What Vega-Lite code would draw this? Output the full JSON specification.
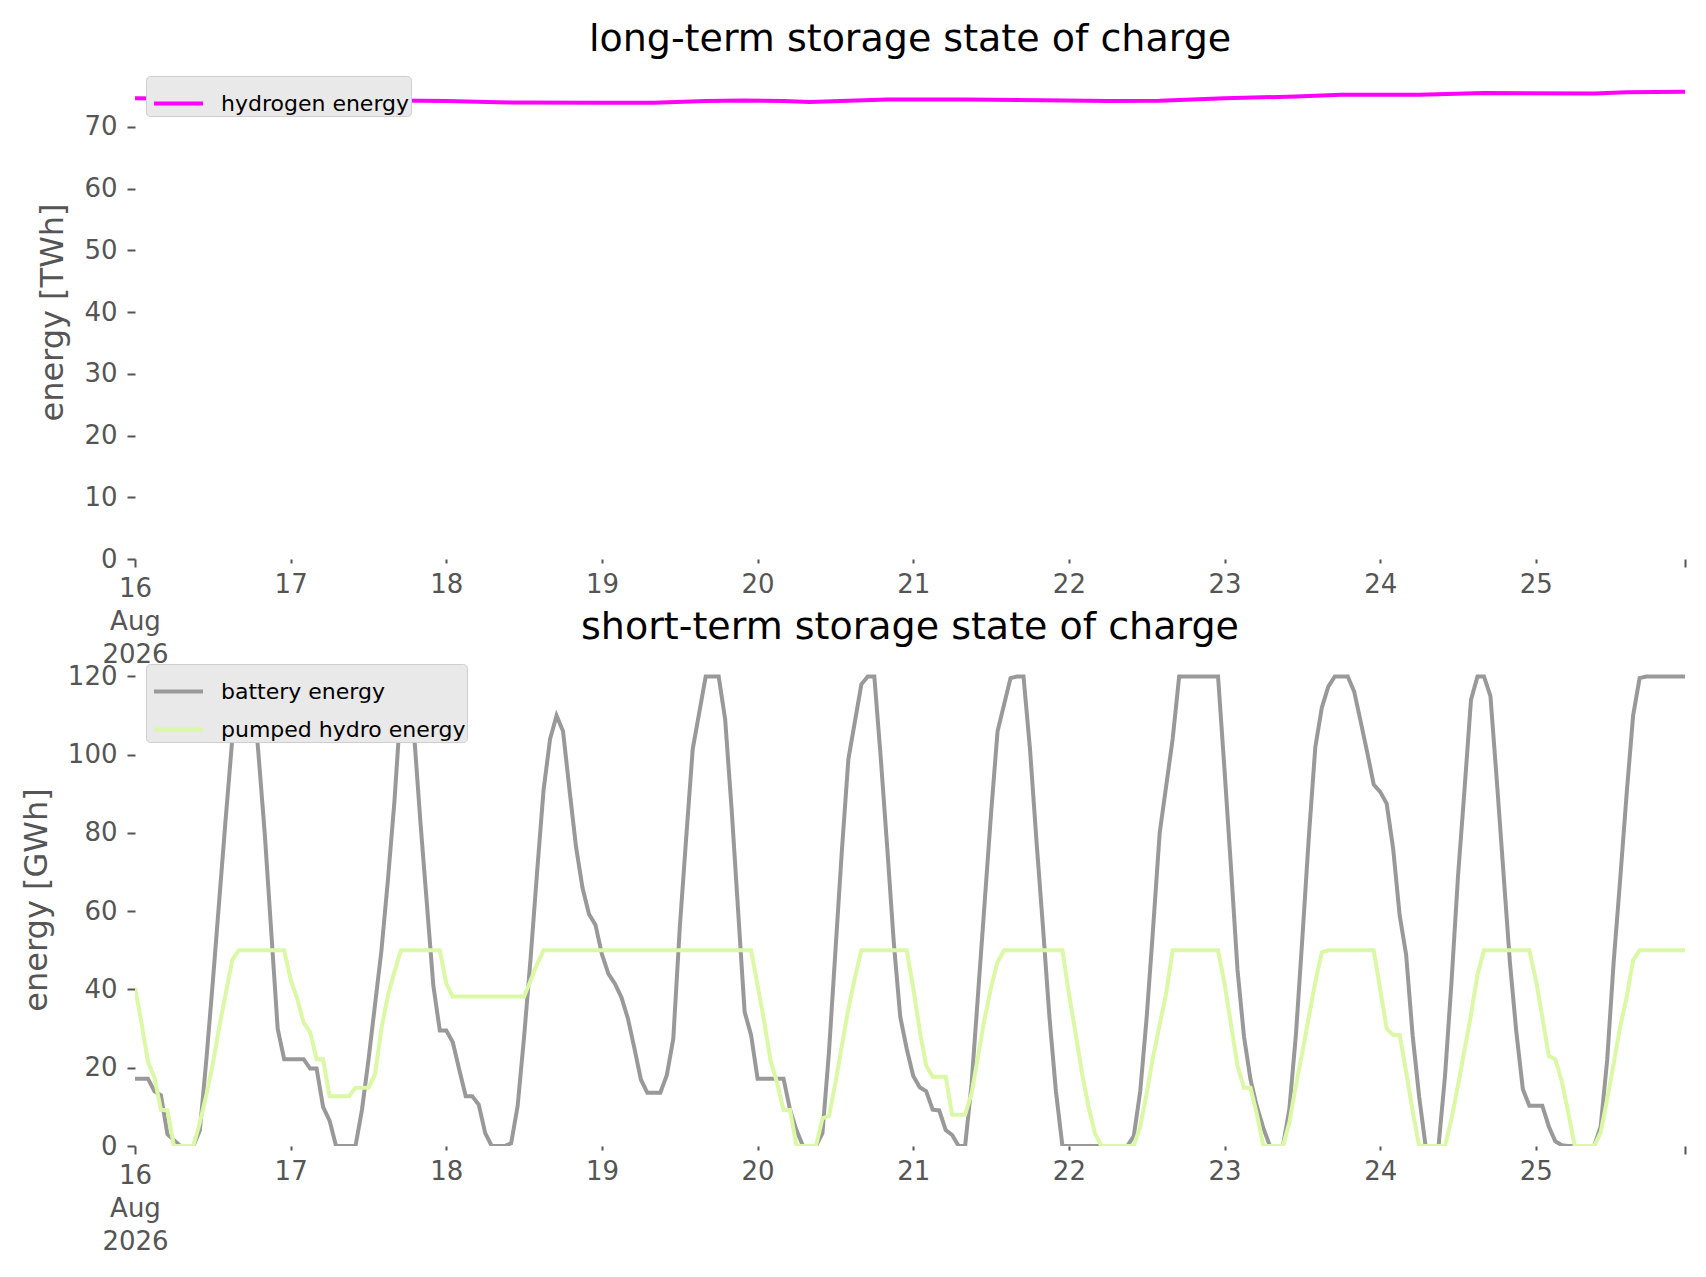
{
  "$schema": "https://vega.github.io/schema/vega-lite/v6.json",
  "background": "white",
  "padding": {"left": 20, "top": 21, "right": 10, "bottom": 10},
  "datasets": {
    "longterm": [
      {"s": "hydrogen energy", "t": "2026-08-16T00:00", "v": 74.6},
      {"s": "hydrogen energy", "t": "2026-08-16T12:00", "v": 74.5},
      {"s": "hydrogen energy", "t": "2026-08-17T00:00", "v": 74.4},
      {"s": "hydrogen energy", "t": "2026-08-17T12:00", "v": 74.3},
      {"s": "hydrogen energy", "t": "2026-08-18T00:00", "v": 74.15},
      {"s": "hydrogen energy", "t": "2026-08-18T08:00", "v": 73.95},
      {"s": "hydrogen energy", "t": "2026-08-19T00:00", "v": 73.9},
      {"s": "hydrogen energy", "t": "2026-08-19T08:00", "v": 73.9},
      {"s": "hydrogen energy", "t": "2026-08-19T16:00", "v": 74.15},
      {"s": "hydrogen energy", "t": "2026-08-19T22:00", "v": 74.25},
      {"s": "hydrogen energy", "t": "2026-08-20T04:00", "v": 74.15},
      {"s": "hydrogen energy", "t": "2026-08-20T08:00", "v": 74.0},
      {"s": "hydrogen energy", "t": "2026-08-20T14:00", "v": 74.2},
      {"s": "hydrogen energy", "t": "2026-08-20T20:00", "v": 74.4},
      {"s": "hydrogen energy", "t": "2026-08-21T08:00", "v": 74.4},
      {"s": "hydrogen energy", "t": "2026-08-21T20:00", "v": 74.3},
      {"s": "hydrogen energy", "t": "2026-08-22T06:00", "v": 74.15},
      {"s": "hydrogen energy", "t": "2026-08-22T14:00", "v": 74.2},
      {"s": "hydrogen energy", "t": "2026-08-23T00:00", "v": 74.6},
      {"s": "hydrogen energy", "t": "2026-08-23T11:00", "v": 74.9},
      {"s": "hydrogen energy", "t": "2026-08-23T18:00", "v": 75.2},
      {"s": "hydrogen energy", "t": "2026-08-24T06:00", "v": 75.2},
      {"s": "hydrogen energy", "t": "2026-08-24T16:00", "v": 75.45},
      {"s": "hydrogen energy", "t": "2026-08-25T09:00", "v": 75.4},
      {"s": "hydrogen energy", "t": "2026-08-25T14:00", "v": 75.6},
      {"s": "hydrogen energy", "t": "2026-08-25T23:00", "v": 75.65}
    ],
    "shortterm": [
      {"s": "battery energy", "t": "2026-08-16T00:00", "v": 17.2},
      {"s": "battery energy", "t": "2026-08-16T02:00", "v": 17.2},
      {"s": "battery energy", "t": "2026-08-16T03:00", "v": 14.0},
      {"s": "battery energy", "t": "2026-08-16T04:00", "v": 13.0},
      {"s": "battery energy", "t": "2026-08-16T05:00", "v": 3.0},
      {"s": "battery energy", "t": "2026-08-16T06:00", "v": 1.5},
      {"s": "battery energy", "t": "2026-08-16T07:00", "v": 0},
      {"s": "battery energy", "t": "2026-08-16T09:00", "v": 0},
      {"s": "battery energy", "t": "2026-08-16T10:00", "v": 4},
      {"s": "battery energy", "t": "2026-08-16T11:00", "v": 22},
      {"s": "battery energy", "t": "2026-08-16T12:00", "v": 42},
      {"s": "battery energy", "t": "2026-08-16T13:00", "v": 63},
      {"s": "battery energy", "t": "2026-08-16T14:00", "v": 84},
      {"s": "battery energy", "t": "2026-08-16T15:00", "v": 104},
      {"s": "battery energy", "t": "2026-08-16T16:00", "v": 120},
      {"s": "battery energy", "t": "2026-08-16T18:00", "v": 120},
      {"s": "battery energy", "t": "2026-08-16T19:00", "v": 101},
      {"s": "battery energy", "t": "2026-08-16T20:00", "v": 80},
      {"s": "battery energy", "t": "2026-08-16T21:00", "v": 55},
      {"s": "battery energy", "t": "2026-08-16T22:00", "v": 30},
      {"s": "battery energy", "t": "2026-08-16T23:00", "v": 22.2},
      {"s": "battery energy", "t": "2026-08-17T02:00", "v": 22.2},
      {"s": "battery energy", "t": "2026-08-17T03:00", "v": 19.8},
      {"s": "battery energy", "t": "2026-08-17T04:00", "v": 19.8},
      {"s": "battery energy", "t": "2026-08-17T05:00", "v": 10},
      {"s": "battery energy", "t": "2026-08-17T06:00", "v": 6.5},
      {"s": "battery energy", "t": "2026-08-17T07:00", "v": 0},
      {"s": "battery energy", "t": "2026-08-17T10:00", "v": 0},
      {"s": "battery energy", "t": "2026-08-17T11:00", "v": 9.3},
      {"s": "battery energy", "t": "2026-08-17T12:00", "v": 22},
      {"s": "battery energy", "t": "2026-08-17T13:00", "v": 36},
      {"s": "battery energy", "t": "2026-08-17T14:00", "v": 50},
      {"s": "battery energy", "t": "2026-08-17T15:00", "v": 68},
      {"s": "battery energy", "t": "2026-08-17T16:00", "v": 88},
      {"s": "battery energy", "t": "2026-08-17T17:00", "v": 113},
      {"s": "battery energy", "t": "2026-08-17T18:00", "v": 120},
      {"s": "battery energy", "t": "2026-08-17T19:00", "v": 106},
      {"s": "battery energy", "t": "2026-08-17T20:00", "v": 83},
      {"s": "battery energy", "t": "2026-08-17T21:00", "v": 62},
      {"s": "battery energy", "t": "2026-08-17T22:00", "v": 41},
      {"s": "battery energy", "t": "2026-08-17T23:00", "v": 29.5},
      {"s": "battery energy", "t": "2026-08-18T00:00", "v": 29.5},
      {"s": "battery energy", "t": "2026-08-18T01:00", "v": 26.5},
      {"s": "battery energy", "t": "2026-08-18T02:00", "v": 19.5},
      {"s": "battery energy", "t": "2026-08-18T03:00", "v": 12.7},
      {"s": "battery energy", "t": "2026-08-18T04:00", "v": 12.7},
      {"s": "battery energy", "t": "2026-08-18T05:00", "v": 10.6},
      {"s": "battery energy", "t": "2026-08-18T06:00", "v": 3.3},
      {"s": "battery energy", "t": "2026-08-18T07:00", "v": 0},
      {"s": "battery energy", "t": "2026-08-18T09:00", "v": 0},
      {"s": "battery energy", "t": "2026-08-18T10:00", "v": 0.7},
      {"s": "battery energy", "t": "2026-08-18T11:00", "v": 10.2},
      {"s": "battery energy", "t": "2026-08-18T12:00", "v": 28},
      {"s": "battery energy", "t": "2026-08-18T13:00", "v": 48},
      {"s": "battery energy", "t": "2026-08-18T14:00", "v": 70},
      {"s": "battery energy", "t": "2026-08-18T15:00", "v": 91},
      {"s": "battery energy", "t": "2026-08-18T16:00", "v": 104},
      {"s": "battery energy", "t": "2026-08-18T17:00", "v": 110},
      {"s": "battery energy", "t": "2026-08-18T18:00", "v": 106},
      {"s": "battery energy", "t": "2026-08-18T19:00", "v": 91},
      {"s": "battery energy", "t": "2026-08-18T20:00", "v": 76.5},
      {"s": "battery energy", "t": "2026-08-18T21:00", "v": 66},
      {"s": "battery energy", "t": "2026-08-18T22:00", "v": 59.3},
      {"s": "battery energy", "t": "2026-08-18T23:00", "v": 56.5},
      {"s": "battery energy", "t": "2026-08-19T00:00", "v": 49},
      {"s": "battery energy", "t": "2026-08-19T01:00", "v": 44},
      {"s": "battery energy", "t": "2026-08-19T02:00", "v": 41.5},
      {"s": "battery energy", "t": "2026-08-19T03:00", "v": 38},
      {"s": "battery energy", "t": "2026-08-19T04:00", "v": 32.6},
      {"s": "battery energy", "t": "2026-08-19T05:00", "v": 25},
      {"s": "battery energy", "t": "2026-08-19T06:00", "v": 17},
      {"s": "battery energy", "t": "2026-08-19T07:00", "v": 13.6},
      {"s": "battery energy", "t": "2026-08-19T09:00", "v": 13.6},
      {"s": "battery energy", "t": "2026-08-19T10:00", "v": 18.1},
      {"s": "battery energy", "t": "2026-08-19T11:00", "v": 27.4},
      {"s": "battery energy", "t": "2026-08-19T12:00", "v": 55.8},
      {"s": "battery energy", "t": "2026-08-19T13:00", "v": 79},
      {"s": "battery energy", "t": "2026-08-19T14:00", "v": 101.5},
      {"s": "battery energy", "t": "2026-08-19T16:00", "v": 120},
      {"s": "battery energy", "t": "2026-08-19T18:00", "v": 120},
      {"s": "battery energy", "t": "2026-08-19T19:00", "v": 109},
      {"s": "battery energy", "t": "2026-08-19T20:00", "v": 86},
      {"s": "battery energy", "t": "2026-08-19T21:00", "v": 60},
      {"s": "battery energy", "t": "2026-08-19T22:00", "v": 34.3},
      {"s": "battery energy", "t": "2026-08-19T23:00", "v": 28.3},
      {"s": "battery energy", "t": "2026-08-20T00:00", "v": 17.2},
      {"s": "battery energy", "t": "2026-08-20T04:00", "v": 17.2},
      {"s": "battery energy", "t": "2026-08-20T05:00", "v": 9.3},
      {"s": "battery energy", "t": "2026-08-20T06:00", "v": 4},
      {"s": "battery energy", "t": "2026-08-20T07:00", "v": 0},
      {"s": "battery energy", "t": "2026-08-20T09:00", "v": 0},
      {"s": "battery energy", "t": "2026-08-20T10:00", "v": 3.3},
      {"s": "battery energy", "t": "2026-08-20T11:00", "v": 23.9},
      {"s": "battery energy", "t": "2026-08-20T12:00", "v": 49.8},
      {"s": "battery energy", "t": "2026-08-20T13:00", "v": 75.6},
      {"s": "battery energy", "t": "2026-08-20T14:00", "v": 98.9},
      {"s": "battery energy", "t": "2026-08-20T16:00", "v": 118},
      {"s": "battery energy", "t": "2026-08-20T17:00", "v": 120},
      {"s": "battery energy", "t": "2026-08-20T18:00", "v": 120},
      {"s": "battery energy", "t": "2026-08-20T19:00", "v": 99},
      {"s": "battery energy", "t": "2026-08-20T20:00", "v": 76},
      {"s": "battery energy", "t": "2026-08-20T21:00", "v": 52},
      {"s": "battery energy", "t": "2026-08-20T22:00", "v": 33},
      {"s": "battery energy", "t": "2026-08-20T23:00", "v": 24.8},
      {"s": "battery energy", "t": "2026-08-21T00:00", "v": 17.9},
      {"s": "battery energy", "t": "2026-08-21T01:00", "v": 15},
      {"s": "battery energy", "t": "2026-08-21T02:00", "v": 14},
      {"s": "battery energy", "t": "2026-08-21T03:00", "v": 9.3},
      {"s": "battery energy", "t": "2026-08-21T04:00", "v": 9.1},
      {"s": "battery energy", "t": "2026-08-21T05:00", "v": 4.1},
      {"s": "battery energy", "t": "2026-08-21T06:00", "v": 2.8},
      {"s": "battery energy", "t": "2026-08-21T07:00", "v": 0},
      {"s": "battery energy", "t": "2026-08-21T08:00", "v": 0},
      {"s": "battery energy", "t": "2026-08-21T09:00", "v": 16},
      {"s": "battery energy", "t": "2026-08-21T10:00", "v": 39},
      {"s": "battery energy", "t": "2026-08-21T11:00", "v": 62},
      {"s": "battery energy", "t": "2026-08-21T12:00", "v": 85},
      {"s": "battery energy", "t": "2026-08-21T13:00", "v": 106},
      {"s": "battery energy", "t": "2026-08-21T15:00", "v": 119.6},
      {"s": "battery energy", "t": "2026-08-21T16:00", "v": 120},
      {"s": "battery energy", "t": "2026-08-21T17:00", "v": 120},
      {"s": "battery energy", "t": "2026-08-21T18:00", "v": 101.5},
      {"s": "battery energy", "t": "2026-08-21T19:00", "v": 78},
      {"s": "battery energy", "t": "2026-08-21T20:00", "v": 56},
      {"s": "battery energy", "t": "2026-08-21T21:00", "v": 33},
      {"s": "battery energy", "t": "2026-08-21T22:00", "v": 14},
      {"s": "battery energy", "t": "2026-08-21T23:00", "v": 0},
      {"s": "battery energy", "t": "2026-08-22T09:00", "v": 0},
      {"s": "battery energy", "t": "2026-08-22T10:00", "v": 2.5},
      {"s": "battery energy", "t": "2026-08-22T11:00", "v": 14},
      {"s": "battery energy", "t": "2026-08-22T12:00", "v": 33},
      {"s": "battery energy", "t": "2026-08-22T13:00", "v": 56},
      {"s": "battery energy", "t": "2026-08-22T14:00", "v": 80},
      {"s": "battery energy", "t": "2026-08-22T15:00", "v": 92},
      {"s": "battery energy", "t": "2026-08-22T16:00", "v": 104},
      {"s": "battery energy", "t": "2026-08-22T17:00", "v": 120},
      {"s": "battery energy", "t": "2026-08-22T23:00", "v": 120},
      {"s": "battery energy", "t": "2026-08-23T00:00", "v": 96},
      {"s": "battery energy", "t": "2026-08-23T01:00", "v": 71},
      {"s": "battery energy", "t": "2026-08-23T02:00", "v": 45},
      {"s": "battery energy", "t": "2026-08-23T03:00", "v": 28},
      {"s": "battery energy", "t": "2026-08-23T04:00", "v": 17},
      {"s": "battery energy", "t": "2026-08-23T05:00", "v": 10},
      {"s": "battery energy", "t": "2026-08-23T06:00", "v": 4.5},
      {"s": "battery energy", "t": "2026-08-23T07:00", "v": 0},
      {"s": "battery energy", "t": "2026-08-23T09:00", "v": 0},
      {"s": "battery energy", "t": "2026-08-23T10:00", "v": 9.5},
      {"s": "battery energy", "t": "2026-08-23T11:00", "v": 28.3},
      {"s": "battery energy", "t": "2026-08-23T12:00", "v": 53.2},
      {"s": "battery energy", "t": "2026-08-23T13:00", "v": 79.1},
      {"s": "battery energy", "t": "2026-08-23T14:00", "v": 102},
      {"s": "battery energy", "t": "2026-08-23T15:00", "v": 112},
      {"s": "battery energy", "t": "2026-08-23T16:00", "v": 117.4},
      {"s": "battery energy", "t": "2026-08-23T17:00", "v": 120},
      {"s": "battery energy", "t": "2026-08-23T19:00", "v": 120},
      {"s": "battery energy", "t": "2026-08-23T20:00", "v": 116.1},
      {"s": "battery energy", "t": "2026-08-23T21:00", "v": 108.4},
      {"s": "battery energy", "t": "2026-08-23T22:00", "v": 100.6},
      {"s": "battery energy", "t": "2026-08-23T23:00", "v": 92.4},
      {"s": "battery energy", "t": "2026-08-24T00:00", "v": 90.5},
      {"s": "battery energy", "t": "2026-08-24T01:00", "v": 87.5},
      {"s": "battery energy", "t": "2026-08-24T02:00", "v": 76},
      {"s": "battery energy", "t": "2026-08-24T03:00", "v": 59},
      {"s": "battery energy", "t": "2026-08-24T04:00", "v": 48.9},
      {"s": "battery energy", "t": "2026-08-24T05:00", "v": 28.3},
      {"s": "battery energy", "t": "2026-08-24T06:00", "v": 12.7},
      {"s": "battery energy", "t": "2026-08-24T07:00", "v": 0},
      {"s": "battery energy", "t": "2026-08-24T09:00", "v": 0},
      {"s": "battery energy", "t": "2026-08-24T10:00", "v": 18},
      {"s": "battery energy", "t": "2026-08-24T11:00", "v": 42},
      {"s": "battery energy", "t": "2026-08-24T12:00", "v": 69},
      {"s": "battery energy", "t": "2026-08-24T13:00", "v": 91},
      {"s": "battery energy", "t": "2026-08-24T14:00", "v": 114},
      {"s": "battery energy", "t": "2026-08-24T15:00", "v": 120},
      {"s": "battery energy", "t": "2026-08-24T16:00", "v": 120},
      {"s": "battery energy", "t": "2026-08-24T17:00", "v": 115},
      {"s": "battery energy", "t": "2026-08-24T18:00", "v": 93},
      {"s": "battery energy", "t": "2026-08-24T19:00", "v": 70},
      {"s": "battery energy", "t": "2026-08-24T20:00", "v": 47},
      {"s": "battery energy", "t": "2026-08-24T21:00", "v": 29},
      {"s": "battery energy", "t": "2026-08-24T22:00", "v": 14.5},
      {"s": "battery energy", "t": "2026-08-24T23:00", "v": 10.3},
      {"s": "battery energy", "t": "2026-08-25T01:00", "v": 10.3},
      {"s": "battery energy", "t": "2026-08-25T02:00", "v": 5},
      {"s": "battery energy", "t": "2026-08-25T03:00", "v": 1.2},
      {"s": "battery energy", "t": "2026-08-25T04:00", "v": 0.2},
      {"s": "battery energy", "t": "2026-08-25T05:00", "v": 0},
      {"s": "battery energy", "t": "2026-08-25T09:00", "v": 0},
      {"s": "battery energy", "t": "2026-08-25T10:00", "v": 5},
      {"s": "battery energy", "t": "2026-08-25T11:00", "v": 22},
      {"s": "battery energy", "t": "2026-08-25T12:00", "v": 47},
      {"s": "battery energy", "t": "2026-08-25T13:00", "v": 68},
      {"s": "battery energy", "t": "2026-08-25T14:00", "v": 90},
      {"s": "battery energy", "t": "2026-08-25T15:00", "v": 110},
      {"s": "battery energy", "t": "2026-08-25T16:00", "v": 119.6},
      {"s": "battery energy", "t": "2026-08-25T17:00", "v": 120},
      {"s": "battery energy", "t": "2026-08-25T23:00", "v": 120},
      {"s": "pumped hydro energy", "t": "2026-08-16T00:00", "v": 40.5},
      {"s": "pumped hydro energy", "t": "2026-08-16T01:00", "v": 31.5},
      {"s": "pumped hydro energy", "t": "2026-08-16T02:00", "v": 21.5},
      {"s": "pumped hydro energy", "t": "2026-08-16T03:00", "v": 17.5},
      {"s": "pumped hydro energy", "t": "2026-08-16T04:00", "v": 9.3},
      {"s": "pumped hydro energy", "t": "2026-08-16T05:00", "v": 9.1},
      {"s": "pumped hydro energy", "t": "2026-08-16T06:00", "v": 0},
      {"s": "pumped hydro energy", "t": "2026-08-16T09:00", "v": 0},
      {"s": "pumped hydro energy", "t": "2026-08-16T10:00", "v": 6},
      {"s": "pumped hydro energy", "t": "2026-08-16T11:00", "v": 13},
      {"s": "pumped hydro energy", "t": "2026-08-16T12:00", "v": 21},
      {"s": "pumped hydro energy", "t": "2026-08-16T13:00", "v": 30.5},
      {"s": "pumped hydro energy", "t": "2026-08-16T14:00", "v": 39},
      {"s": "pumped hydro energy", "t": "2026-08-16T15:00", "v": 47.6},
      {"s": "pumped hydro energy", "t": "2026-08-16T16:00", "v": 50},
      {"s": "pumped hydro energy", "t": "2026-08-16T23:00", "v": 50},
      {"s": "pumped hydro energy", "t": "2026-08-17T00:00", "v": 42.5},
      {"s": "pumped hydro energy", "t": "2026-08-17T01:00", "v": 37.7},
      {"s": "pumped hydro energy", "t": "2026-08-17T02:00", "v": 31.5},
      {"s": "pumped hydro energy", "t": "2026-08-17T03:00", "v": 29.1},
      {"s": "pumped hydro energy", "t": "2026-08-17T04:00", "v": 22.2},
      {"s": "pumped hydro energy", "t": "2026-08-17T05:00", "v": 22.2},
      {"s": "pumped hydro energy", "t": "2026-08-17T06:00", "v": 12.7},
      {"s": "pumped hydro energy", "t": "2026-08-17T09:00", "v": 12.7},
      {"s": "pumped hydro energy", "t": "2026-08-17T10:00", "v": 14.9},
      {"s": "pumped hydro energy", "t": "2026-08-17T12:00", "v": 14.9},
      {"s": "pumped hydro energy", "t": "2026-08-17T13:00", "v": 18.3},
      {"s": "pumped hydro energy", "t": "2026-08-17T14:00", "v": 30},
      {"s": "pumped hydro energy", "t": "2026-08-17T15:00", "v": 38.5},
      {"s": "pumped hydro energy", "t": "2026-08-17T16:00", "v": 44.5},
      {"s": "pumped hydro energy", "t": "2026-08-17T17:00", "v": 50},
      {"s": "pumped hydro energy", "t": "2026-08-17T23:00", "v": 50},
      {"s": "pumped hydro energy", "t": "2026-08-18T00:00", "v": 41.5},
      {"s": "pumped hydro energy", "t": "2026-08-18T01:00", "v": 38.2},
      {"s": "pumped hydro energy", "t": "2026-08-18T12:00", "v": 38.2},
      {"s": "pumped hydro energy", "t": "2026-08-18T13:00", "v": 42.3},
      {"s": "pumped hydro energy", "t": "2026-08-18T14:00", "v": 46.5},
      {"s": "pumped hydro energy", "t": "2026-08-18T15:00", "v": 50},
      {"s": "pumped hydro energy", "t": "2026-08-19T23:00", "v": 50},
      {"s": "pumped hydro energy", "t": "2026-08-20T00:00", "v": 41},
      {"s": "pumped hydro energy", "t": "2026-08-20T01:00", "v": 32},
      {"s": "pumped hydro energy", "t": "2026-08-20T02:00", "v": 21.8},
      {"s": "pumped hydro energy", "t": "2026-08-20T03:00", "v": 16.2},
      {"s": "pumped hydro energy", "t": "2026-08-20T04:00", "v": 9.2},
      {"s": "pumped hydro energy", "t": "2026-08-20T05:00", "v": 9.2},
      {"s": "pumped hydro energy", "t": "2026-08-20T06:00", "v": 0},
      {"s": "pumped hydro energy", "t": "2026-08-20T09:00", "v": 0},
      {"s": "pumped hydro energy", "t": "2026-08-20T10:00", "v": 7.1},
      {"s": "pumped hydro energy", "t": "2026-08-20T11:00", "v": 7.6},
      {"s": "pumped hydro energy", "t": "2026-08-20T12:00", "v": 16.2},
      {"s": "pumped hydro energy", "t": "2026-08-20T13:00", "v": 25.7},
      {"s": "pumped hydro energy", "t": "2026-08-20T14:00", "v": 35.1},
      {"s": "pumped hydro energy", "t": "2026-08-20T15:00", "v": 43},
      {"s": "pumped hydro energy", "t": "2026-08-20T16:00", "v": 50},
      {"s": "pumped hydro energy", "t": "2026-08-20T23:00", "v": 50},
      {"s": "pumped hydro energy", "t": "2026-08-21T00:00", "v": 40.3},
      {"s": "pumped hydro energy", "t": "2026-08-21T01:00", "v": 29.5},
      {"s": "pumped hydro energy", "t": "2026-08-21T02:00", "v": 20.5},
      {"s": "pumped hydro energy", "t": "2026-08-21T03:00", "v": 17.7},
      {"s": "pumped hydro energy", "t": "2026-08-21T05:00", "v": 17.7},
      {"s": "pumped hydro energy", "t": "2026-08-21T06:00", "v": 8},
      {"s": "pumped hydro energy", "t": "2026-08-21T08:00", "v": 8},
      {"s": "pumped hydro energy", "t": "2026-08-21T09:00", "v": 13.5},
      {"s": "pumped hydro energy", "t": "2026-08-21T10:00", "v": 23},
      {"s": "pumped hydro energy", "t": "2026-08-21T11:00", "v": 32.5},
      {"s": "pumped hydro energy", "t": "2026-08-21T12:00", "v": 40.5},
      {"s": "pumped hydro energy", "t": "2026-08-21T13:00", "v": 47},
      {"s": "pumped hydro energy", "t": "2026-08-21T14:00", "v": 50},
      {"s": "pumped hydro energy", "t": "2026-08-21T23:00", "v": 50},
      {"s": "pumped hydro energy", "t": "2026-08-22T00:00", "v": 39},
      {"s": "pumped hydro energy", "t": "2026-08-22T01:00", "v": 29.1},
      {"s": "pumped hydro energy", "t": "2026-08-22T02:00", "v": 18.8},
      {"s": "pumped hydro energy", "t": "2026-08-22T03:00", "v": 10.2},
      {"s": "pumped hydro energy", "t": "2026-08-22T04:00", "v": 3.3},
      {"s": "pumped hydro energy", "t": "2026-08-22T05:00", "v": 0},
      {"s": "pumped hydro energy", "t": "2026-08-22T10:00", "v": 0},
      {"s": "pumped hydro energy", "t": "2026-08-22T11:00", "v": 5},
      {"s": "pumped hydro energy", "t": "2026-08-22T12:00", "v": 13.5},
      {"s": "pumped hydro energy", "t": "2026-08-22T13:00", "v": 23},
      {"s": "pumped hydro energy", "t": "2026-08-22T14:00", "v": 31},
      {"s": "pumped hydro energy", "t": "2026-08-22T15:00", "v": 39},
      {"s": "pumped hydro energy", "t": "2026-08-22T16:00", "v": 50},
      {"s": "pumped hydro energy", "t": "2026-08-22T23:00", "v": 50},
      {"s": "pumped hydro energy", "t": "2026-08-23T00:00", "v": 41.5},
      {"s": "pumped hydro energy", "t": "2026-08-23T01:00", "v": 31},
      {"s": "pumped hydro energy", "t": "2026-08-23T02:00", "v": 20.5},
      {"s": "pumped hydro energy", "t": "2026-08-23T03:00", "v": 14.9},
      {"s": "pumped hydro energy", "t": "2026-08-23T04:00", "v": 14.9},
      {"s": "pumped hydro energy", "t": "2026-08-23T05:00", "v": 8},
      {"s": "pumped hydro energy", "t": "2026-08-23T06:00", "v": 0},
      {"s": "pumped hydro energy", "t": "2026-08-23T09:00", "v": 0},
      {"s": "pumped hydro energy", "t": "2026-08-23T10:00", "v": 6},
      {"s": "pumped hydro energy", "t": "2026-08-23T11:00", "v": 15.5},
      {"s": "pumped hydro energy", "t": "2026-08-23T12:00", "v": 24},
      {"s": "pumped hydro energy", "t": "2026-08-23T13:00", "v": 33},
      {"s": "pumped hydro energy", "t": "2026-08-23T14:00", "v": 42},
      {"s": "pumped hydro energy", "t": "2026-08-23T15:00", "v": 49.5},
      {"s": "pumped hydro energy", "t": "2026-08-23T16:00", "v": 50},
      {"s": "pumped hydro energy", "t": "2026-08-23T23:00", "v": 50},
      {"s": "pumped hydro energy", "t": "2026-08-24T00:00", "v": 40},
      {"s": "pumped hydro energy", "t": "2026-08-24T01:00", "v": 30},
      {"s": "pumped hydro energy", "t": "2026-08-24T02:00", "v": 28.4},
      {"s": "pumped hydro energy", "t": "2026-08-24T03:00", "v": 28.4},
      {"s": "pumped hydro energy", "t": "2026-08-24T04:00", "v": 19},
      {"s": "pumped hydro energy", "t": "2026-08-24T05:00", "v": 9},
      {"s": "pumped hydro energy", "t": "2026-08-24T06:00", "v": 0},
      {"s": "pumped hydro energy", "t": "2026-08-24T10:00", "v": 0},
      {"s": "pumped hydro energy", "t": "2026-08-24T11:00", "v": 7},
      {"s": "pumped hydro energy", "t": "2026-08-24T12:00", "v": 15.5},
      {"s": "pumped hydro energy", "t": "2026-08-24T13:00", "v": 24.5},
      {"s": "pumped hydro energy", "t": "2026-08-24T14:00", "v": 33.5},
      {"s": "pumped hydro energy", "t": "2026-08-24T15:00", "v": 43.8},
      {"s": "pumped hydro energy", "t": "2026-08-24T16:00", "v": 50},
      {"s": "pumped hydro energy", "t": "2026-08-24T23:00", "v": 50},
      {"s": "pumped hydro energy", "t": "2026-08-25T00:00", "v": 42.5},
      {"s": "pumped hydro energy", "t": "2026-08-25T01:00", "v": 33},
      {"s": "pumped hydro energy", "t": "2026-08-25T02:00", "v": 23},
      {"s": "pumped hydro energy", "t": "2026-08-25T03:00", "v": 22.2},
      {"s": "pumped hydro energy", "t": "2026-08-25T04:00", "v": 16.5},
      {"s": "pumped hydro energy", "t": "2026-08-25T05:00", "v": 8.5},
      {"s": "pumped hydro energy", "t": "2026-08-25T06:00", "v": 0},
      {"s": "pumped hydro energy", "t": "2026-08-25T09:00", "v": 0},
      {"s": "pumped hydro energy", "t": "2026-08-25T10:00", "v": 3.5},
      {"s": "pumped hydro energy", "t": "2026-08-25T11:00", "v": 12},
      {"s": "pumped hydro energy", "t": "2026-08-25T12:00", "v": 21},
      {"s": "pumped hydro energy", "t": "2026-08-25T13:00", "v": 30.5},
      {"s": "pumped hydro energy", "t": "2026-08-25T14:00", "v": 38},
      {"s": "pumped hydro energy", "t": "2026-08-25T15:00", "v": 47.5},
      {"s": "pumped hydro energy", "t": "2026-08-25T16:00", "v": 50},
      {"s": "pumped hydro energy", "t": "2026-08-25T23:00", "v": 50}
    ]
  },
  "vconcat": [
    {
      "width": 1550,
      "height": 494,
      "title": {"text": "long-term storage state of charge"},
      "data": {"name": "longterm"},
      "mark": {"type": "line", "strokeWidth": 4, "clip": true},
      "encoding": {
        "x": {
          "field": "t",
          "type": "temporal",
          "title": null,
          "scale": {
            "domain": [
              {"year": 2026, "month": 8, "date": 16, "hours": 0},
              {"year": 2026, "month": 8, "date": 25, "hours": 23}
            ],
            "nice": false
          },
          "axis": {
            "values": [
              {"year": 2026, "month": 8, "date": 16},
              {"year": 2026, "month": 8, "date": 17},
              {"year": 2026, "month": 8, "date": 18},
              {"year": 2026, "month": 8, "date": 19},
              {"year": 2026, "month": 8, "date": 20},
              {"year": 2026, "month": 8, "date": 21},
              {"year": 2026, "month": 8, "date": 22},
              {"year": 2026, "month": 8, "date": 23},
              {"year": 2026, "month": 8, "date": 24},
              {"year": 2026, "month": 8, "date": 25},
              {"year": 2026, "month": 8, "date": 25, "hours": 23}
            ],
            "labelExpr": "date(datum.value) == 16 ? ['16', 'Aug', '2026'] : (hours(datum.value) == 23 ? '' : timeFormat(datum.value, '%-d'))",
            "tickSize": {"condition": {"test": "date(datum.value) == 16 || hours(datum.value) == 23", "value": 8}, "value": 4}
          }
        },
        "y": {
          "field": "v",
          "type": "quantitative",
          "title": "energy [TWh]",
          "scale": {"domain": [0, 80], "nice": false},
          "axis": {"values": [0, 10, 20, 30, 40, 50, 60, 70]}
        },
        "color": {
          "field": "s",
          "type": "nominal",
          "scale": {"domain": ["hydrogen energy"], "range": ["#ff00ff"]},
          "legend": {"title": null}
        }
      }
    },
    {
      "width": 1550,
      "height": 493,
      "title": {"text": "short-term storage state of charge"},
      "data": {"name": "shortterm"},
      "mark": {"type": "line", "strokeWidth": 4, "clip": true},
      "encoding": {
        "x": {
          "field": "t",
          "type": "temporal",
          "title": null,
          "scale": {
            "domain": [
              {"year": 2026, "month": 8, "date": 16, "hours": 0},
              {"year": 2026, "month": 8, "date": 25, "hours": 23}
            ],
            "nice": false
          },
          "axis": {
            "values": [
              {"year": 2026, "month": 8, "date": 16},
              {"year": 2026, "month": 8, "date": 17},
              {"year": 2026, "month": 8, "date": 18},
              {"year": 2026, "month": 8, "date": 19},
              {"year": 2026, "month": 8, "date": 20},
              {"year": 2026, "month": 8, "date": 21},
              {"year": 2026, "month": 8, "date": 22},
              {"year": 2026, "month": 8, "date": 23},
              {"year": 2026, "month": 8, "date": 24},
              {"year": 2026, "month": 8, "date": 25},
              {"year": 2026, "month": 8, "date": 25, "hours": 23}
            ],
            "labelExpr": "date(datum.value) == 16 ? ['16', 'Aug', '2026'] : (hours(datum.value) == 23 ? '' : timeFormat(datum.value, '%-d'))",
            "tickSize": {"condition": {"test": "date(datum.value) == 16 || hours(datum.value) == 23", "value": 8}, "value": 4}
          }
        },
        "y": {
          "field": "v",
          "type": "quantitative",
          "title": "energy [GWh]",
          "scale": {"domain": [0, 126], "nice": false},
          "axis": {"values": [0, 20, 40, 60, 80, 100, 120]}
        },
        "color": {
          "field": "s",
          "type": "nominal",
          "scale": {"domain": ["battery energy", "pumped hydro energy"], "range": ["#999999", "#dbf8a6"]},
          "legend": {"title": null}
        }
      }
    }
  ],
  "spacing": 94,
  "bounds": "flush",
  "resolve": {
    "scale": {"x": "independent", "y": "independent", "color": "independent"},
    "legend": {"color": "independent"}
  },
  "config": {
    "font": "DejaVu Sans",
    "view": {"stroke": null},
    "title": {
      "fontSize": 38,
      "fontWeight": "normal",
      "color": "black",
      "anchor": "middle",
      "offset": 6
    },
    "axis": {
      "domain": false,
      "grid": false,
      "labelFontSize": 26,
      "labelColor": "#555555",
      "tickColor": "#555555",
      "tickWidth": 2,
      "titleFontSize": 32,
      "titleFontWeight": "normal",
      "titleColor": "#555555",
      "labelFlush": false,
      "labelOverlap": false
    },
    "axisX": {"labelPadding": 8, "labelLineHeight": 33},
    "axisY": {"tickSize": 8, "labelPadding": 10, "titlePadding": 14},
    "legend": {
      "orient": "top-left",
      "offset": 11,
      "fillColor": "#e9e9e9",
      "strokeColor": "#cfcfcf",
      "cornerRadius": 4,
      "padding": 1,
      "symbolOffset": 5,
      "labelLimit": 500,
      "labelFontSize": 22,
      "labelColor": "black",
      "symbolType": "stroke",
      "symbolSize": 2400,
      "symbolStrokeWidth": 4,
      "labelOffset": 16,
      "rowPadding": -19
    }
  }
}
